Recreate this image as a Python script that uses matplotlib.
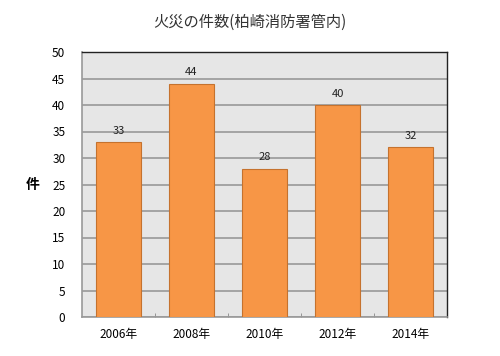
import matplotlib
matplotlib.use('Agg')
import matplotlib.pyplot as plt
import numpy as np

plt.rcParams['font.family'] = ['Noto Sans CJK JP', 'DejaVu Sans']

years = ['2006年', '2008年', '2010年', '2012年', '2014年']
fires = [33, 44, 28, 40, 32]

fig = plt.figure(figsize=(5.0, 3.56), dpi=100)
ax = fig.add_axes([82 / 500, 1 - 317 / 356, 365 / 500, 265 / 356])
ax.set_facecolor('#e6e6e6')

x = np.arange(len(years))
bars = ax.bar(x, fires, width=0.62, color='#f79646', edgecolor='#c5722e', linewidth=0.8, zorder=3)
for b, v in zip(bars, fires):
    ax.text(b.get_x() + b.get_width() / 2, v + 1.2, str(v), ha='center', va='bottom',
            fontsize=8, color='#222222', zorder=4)

ax.set_xlim(-0.5, len(years) - 0.5)
ax.set_ylim(0, 50)
ax.set_yticks(np.arange(0, 51, 5))
ax.yaxis.grid(True, color='#999999', linewidth=1.2, zorder=0)
ax.set_axisbelow(True)

ax.set_xticks(x)
ax.set_xticklabels(years, fontsize=8.5)
ax.tick_params(axis='x', length=0, pad=8)
ax.set_xticks(np.arange(0.5, len(years) - 0.5, 1), minor=True)
ax.tick_params(axis='x', which='minor', direction='in', length=3, color='#888888')
ax.tick_params(axis='y', length=0, labelsize=8.5, pad=12)

for s in ['left', 'bottom']:
    ax.spines[s].set_color('#999999')
    ax.spines[s].set_linewidth(1.2)
for s in ['top', 'right']:
    ax.spines[s].set_color('#222222')
    ax.spines[s].set_linewidth(1.0)

ax.set_ylabel('件', rotation=0, fontsize=10, fontweight='bold', labelpad=14, va='center')
fig.text(0.5, 1 - 22 / 356, '火災の件数(柏崎消防署管内)', ha='center', va='center', fontsize=11, color='#333333')

fig.savefig('out.png', dpi=100)
